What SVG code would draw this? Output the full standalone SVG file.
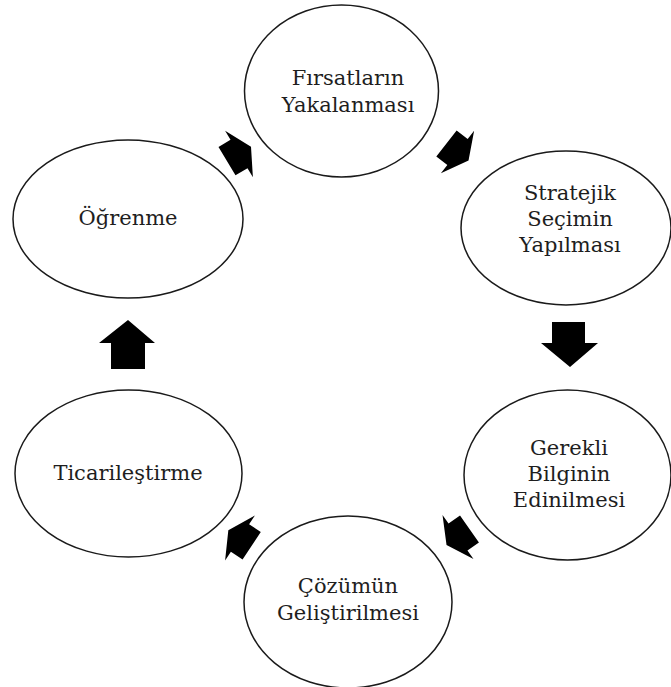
<svg xmlns="http://www.w3.org/2000/svg" width="671" height="687" viewBox="0 0 671 687">
  <style>
    .node ellipse { fill: #ffffff; stroke: #1a1a1a; stroke-width: 1.5; }
    .node text { font-family: "DejaVu Serif", "Liberation Serif", serif; font-size: 21px; fill: #1e1e1e; text-anchor: middle; }
    .arrow { fill: #000000; }
  </style>
  <defs>
    <!-- small block arrow, pointing up, origin at the base of the head -->
    <path id="cycleArrow" d="M0,-14 L27,0 L16.5,0 L16.5,14 L-16.5,14 L-16.5,0 L-27,0 Z"/>
  </defs>
  <rect width="671" height="687" fill="#ffffff"/>

  <g id="connectors">
    <use href="#cycleArrow" class="arrow" transform="translate(239,154) rotate(59)"/>
    <use href="#cycleArrow" class="arrow" transform="translate(457.5,152) rotate(128)"/>
    <path class="arrow" d="M552,322 L585,322 L585,343 L598,343 L570,367 L541,343 L552,343 Z"/>
    <use href="#cycleArrow" class="arrow" transform="translate(458,537) rotate(235)"/>
    <use href="#cycleArrow" class="arrow" transform="translate(240,538) rotate(-56.5)"/>
    <path class="arrow" d="M111,369 L145,369 L145,343 L155,343 L128,320 L99,343 L111,343 Z"/>
  </g>

  <g id="firsatlarin-yakalanmasi" class="node">
    <ellipse cx="341.5" cy="91" rx="97" ry="86"/>
    <text x="348" y="85">Fırsatların</text>
    <text x="348" y="112">Yakalanması</text>
  </g>

  <g id="stratejik-secimin-yapilmasi" class="node">
    <ellipse cx="566" cy="228" rx="105" ry="77"/>
    <text x="570" y="200">Stratejik</text>
    <text x="570" y="226">Seçimin</text>
    <text x="570" y="252">Yapılması</text>
  </g>

  <g id="gerekli-bilginin-edinilmesi" class="node">
    <ellipse cx="567.5" cy="475" rx="103.5" ry="85"/>
    <text x="569" y="455">Gerekli</text>
    <text x="569" y="481">Bilginin</text>
    <text x="569" y="507">Edinilmesi</text>
  </g>

  <g id="cozumun-gelistirilmesi" class="node">
    <ellipse cx="348" cy="602" rx="104" ry="86"/>
    <text x="348" y="593">Çözümün</text>
    <text x="348" y="620">Geliştirilmesi</text>
  </g>

  <g id="ticarilestirme" class="node">
    <ellipse cx="128.5" cy="473.5" rx="113.5" ry="83.5"/>
    <text x="128" y="480">Ticarileştirme</text>
  </g>

  <g id="ogrenme" class="node">
    <ellipse cx="128" cy="219" rx="115" ry="79"/>
    <text x="128" y="225">Öğrenme</text>
  </g>
</svg>
